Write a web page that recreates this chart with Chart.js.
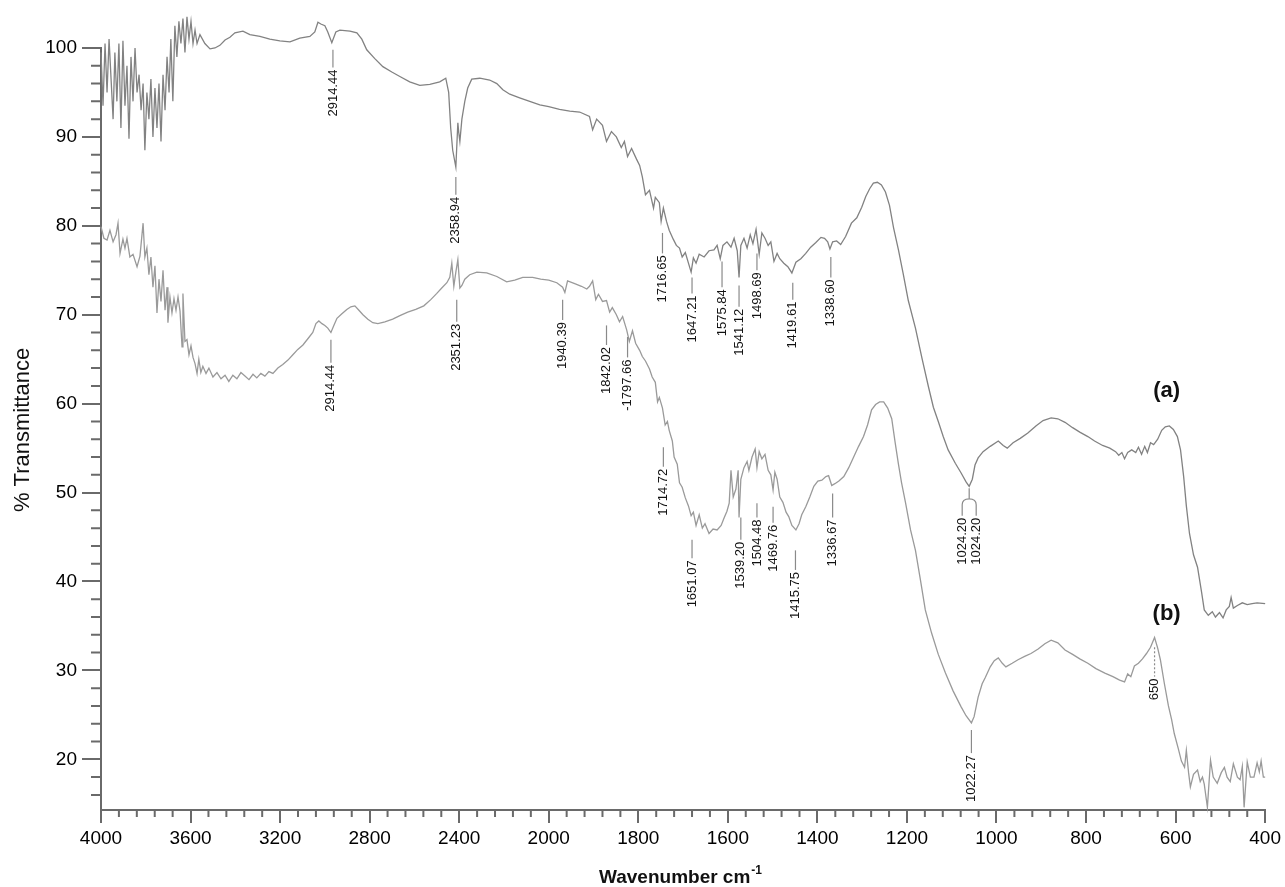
<!DOCTYPE html>
<html>
<head>
<meta charset="utf-8">
<script src="https://cdn.jsdelivr.net/npm/chart.js@4.4.1/dist/chart.umd.min.js"></script>
<style>
  body { margin: 0; background: #fff; }
  canvas { display: block; }
</style>
</head>
<body>
<canvas id="ftir" width="1285" height="887"></canvas>
<script>
// wavenumber (cm-1) and %T for trace (a)
const waveA = [4000,3991,3982,3973,3964,3955,3946,3938,3929,3920,3911,3902,3893,3884,3875,3866,3857,3848,3839,3830,3821,3812,3804,3795,3786,3777,3768,3759,3750,3741,3732,3723,3714,3705,3696,3688,3679,3670,3661,3652,3643,3634,3625,3616,3607,3598,3589,3580,3571,3558,3536,3513,3491,3469,3446,3424,3402,3366,3335,3290,3246,3201,3156,3112,3067,3045,3031,3018,3000,2987,2969,2951,2933,2888,2857,2835,2813,2777,2741,2701,2665,2621,2576,2531,2487,2460,2447,2438,2429,2415,2406,2402,2397,2388,2375,2362,2344,2308,2264,2232,2205,2174,2130,2085,2040,2000,1976,1953,1931,1909,1902,1893,1880,1871,1860,1849,1838,1831,1824,1815,1804,1797,1791,1784,1775,1766,1762,1753,1749,1744,1737,1731,1722,1715,1708,1702,1695,1688,1682,1677,1671,1664,1653,1642,1631,1624,1617,1611,1602,1593,1586,1579,1575,1571,1564,1557,1550,1544,1537,1530,1524,1517,1510,1504,1497,1490,1484,1475,1466,1457,1448,1437,1426,1415,1404,1392,1384,1377,1372,1366,1357,1348,1337,1324,1312,1301,1292,1283,1275,1266,1257,1248,1239,1230,1219,1208,1197,1181,1166,1152,1141,1130,1119,1108,1092,1079,1068,1061,1054,1048,1041,1030,1014,996,985,976,963,947,930,912,896,878,863,847,830,814,796,781,763,747,734,727,720,714,707,698,689,683,676,669,663,656,649,640,631,623,614,605,596,589,582,576,569,560,551,542,536,527,518,511,502,494,487,480,476,471,462,451,440,429,418,400];
const transA = [99.5,93.5,100.5,95,101,96.5,92,99.5,94,100.5,91,100.8,93.5,98,89.8,99,94,100,95,97,93,96,88.5,95,92,96.5,90,95.5,91,96,89.5,97,93,99,95,101,94,102.5,99,103,100.5,103.3,99.5,103.5,101,103,100.5,102,100.5,101.5,100.5,99.9,100,100.3,100.9,101.2,101.7,101.9,101.5,101.3,101,100.8,100.7,101.1,101.3,101.8,102.9,102.7,102.5,101.8,100.6,101.8,102,101.9,101.7,101,99.8,98.8,97.9,97.3,96.8,96.2,95.8,95.9,96.2,96.6,95,91,88.5,86.6,91.6,90.5,89.5,92,94,95.5,96.5,96.6,96.4,96,95.3,94.8,94.4,94,93.6,93.4,93.1,92.9,92.8,92.3,90.8,92,91.3,89.5,90.6,90,88.8,89.5,87.8,88.7,87.5,86.8,85.5,83.5,84,82,83.2,82.6,80.5,82,80.5,79.5,78.5,77.8,77.5,76.5,77,75.8,74.8,76.4,75.8,76.8,76.5,77.2,77.3,77.8,76.3,77.8,78.2,77.6,78.6,77.2,74.2,77.8,78.6,77.5,79,78,79.6,76.8,79.2,78.6,77.8,78.2,76,76.9,76.3,75.8,75.4,74.7,75.9,76.3,76.9,77.6,78.1,78.7,78.6,78.2,77.4,78.2,78.3,77.9,78.8,80.3,80.9,82.1,83.3,84.2,84.8,84.9,84.6,83.8,82.3,79.8,77.3,74.5,71.6,68.5,65,61.9,59.6,58,56.3,54.8,53.3,52.2,51.2,50.7,51.5,53.1,53.9,54.6,55.2,55.8,55.3,55,55.6,56.1,56.7,57.5,58.1,58.4,58.3,57.9,57.3,56.8,56.3,55.8,55.3,55,54.6,54.2,54.5,53.8,54.5,54.8,54.5,55.1,54.3,55.2,54.5,55.6,55.4,56,57,57.4,57.5,57.1,56.3,54.8,51.8,48.5,45.4,43,41.6,38.8,36.8,36.2,36.6,36,36.5,35.9,36.8,37.2,38.2,37,37.3,37.6,37.4,37.5,37.6,37.5];

// wavenumber (cm-1) and %T for trace (b)
const waveB = [4000,3987,3973,3960,3946,3933,3924,3915,3902,3893,3884,3871,3857,3839,3826,3812,3804,3795,3786,3777,3768,3759,3750,3741,3732,3723,3714,3705,3701,3692,3683,3674,3665,3656,3647,3638,3634,3625,3616,3607,3598,3589,3580,3571,3563,3554,3545,3531,3518,3500,3482,3464,3446,3429,3411,3393,3375,3357,3339,3321,3304,3286,3268,3250,3232,3210,3188,3165,3143,3121,3098,3076,3054,3040,3027,3013,3000,2987,2973,2960,2946,2924,2902,2884,2866,2848,2830,2808,2786,2763,2732,2697,2665,2630,2594,2558,2527,2500,2478,2455,2442,2433,2424,2415,2406,2397,2388,2375,2353,2321,2277,2232,2188,2152,2116,2072,2036,2000,1982,1969,1964,1958,1942,1927,1915,1909,1902,1895,1889,1880,1871,1864,1858,1849,1842,1835,1826,1820,1813,1806,1797,1791,1784,1775,1769,1762,1757,1753,1746,1740,1735,1731,1724,1720,1713,1708,1702,1695,1688,1682,1677,1671,1664,1657,1651,1642,1633,1624,1615,1608,1602,1597,1593,1588,1582,1577,1575,1571,1564,1557,1553,1546,1539,1535,1530,1524,1517,1510,1504,1499,1495,1490,1484,1477,1470,1464,1457,1448,1441,1435,1426,1417,1408,1399,1390,1381,1375,1368,1361,1352,1341,1330,1319,1308,1297,1288,1279,1270,1261,1252,1243,1234,1226,1219,1212,1203,1192,1181,1170,1159,1145,1130,1114,1097,1079,1068,1056,1050,1041,1032,1025,1014,1005,996,987,979,965,952,936,923,907,892,878,863,847,830,814,796,778,758,740,725,714,707,700,692,683,674,665,656,647,640,634,625,616,609,603,594,587,580,576,571,567,560,551,545,540,536,529,522,516,507,498,491,485,478,471,462,456,451,447,440,433,425,418,413,409,404,400];
const transB = [79.9,78.6,78.4,79.5,78.2,79,80.3,76.9,78.5,77.5,78.6,76.5,76.8,75.4,76.6,80.3,76.5,77.5,74.5,76.5,73.1,75.5,70.2,74,71.5,75,70.5,73.1,69.1,72,70.2,71.8,70.5,72,70.4,66.4,72.4,67,67.2,65.5,66.5,65.2,64.5,63.4,65,63.5,64.2,63.4,64,63,63.5,62.8,63.2,62.5,63.2,62.8,63.5,63.1,62.7,63.3,62.9,63.4,63.1,63.6,63.4,64,64.4,64.9,65.5,66.1,66.6,67.3,68,69,69.3,69,68.8,68.5,68,68.8,69.6,70.1,70.6,70.9,71,70.5,70,69.5,69.1,69,69.2,69.5,69.9,70.3,70.6,71,71.7,72.4,73,73.6,74.2,75.8,73.2,74.8,76.2,73,73.3,74,74.5,74.8,74.7,74.3,73.7,73.9,74.2,74.2,74,73.9,73.6,73.1,72.5,73.8,73.5,73.2,72.9,73.2,73.8,71.7,72.3,71.5,71.6,70.3,70.8,70,69.2,69.8,68.3,67,68.2,66.8,66,65.3,64.8,63.9,63,62.4,60.2,60.7,59.5,57.6,58,57,55.8,54,53.2,51.1,50.6,49.4,48.5,47.4,47.8,46.3,47.5,46,46.5,45.4,45.9,45.8,46.3,47.2,47.9,48.8,52.5,49.5,50.4,52.5,47.2,51.5,52.8,53.5,52.5,54,54.9,52.8,54.6,53.8,54.3,52.5,52,50.3,52.3,51.5,49.5,48.9,47.8,47.3,46.3,45.8,46.5,47.5,48.4,49.5,50.7,51.3,51.4,51.8,51.9,50.8,51,51.3,51.8,52.8,54,55.2,56.3,57.6,59.3,59.9,60.2,60.2,59.5,58.3,55.5,53.2,51.1,48.8,45.8,43.5,40.2,36.8,34.2,31.8,29.7,27.7,25.9,24.9,24.1,24.8,27,28.5,29.2,30.4,31.1,31.4,30.8,30.4,30.8,31.2,31.6,31.9,32.4,33,33.4,33.1,32.3,31.8,31.3,30.8,30.2,29.7,29.3,28.9,28.7,29.6,29.3,30.5,30.8,31.3,31.9,32.6,33.7,32.5,31.2,28.5,26,24.5,22.9,21.2,19.8,19.1,21,18.5,16.9,18.3,18.8,17.5,18,17.2,14.6,19.9,18,17.3,18.5,19.1,18,17.5,19.5,18,17.7,19.2,14.6,19.7,18,18,19.6,18.6,19.8,18,18];

const xTicks = [4000, 3600, 3200, 2800, 2400, 2000, 1800, 1600, 1400, 1200, 1000, 800, 600, 400];
const yTicks = [20, 30, 40, 50, 60, 70, 80, 90, 100];

// peak labels: where the mark sits on the axis, its text, leader line top/bottom in %T
const peakWave = [2964, 2415, 1746, 1680, 1613, 1575, 1535, 1455, 1370, 2973, 2411, 1969, 1871, 1824, 1744, 1680, 1571, 1535, 1499, 1449, 1366, 1056];
const peakText = ['2914.44', '2358.94', '1716.65', '1647.21', '1575.84', '1541.12', '1498.69', '1419.61', '1338.60', '2914.44', '2351.23', '1940.39', '1842.02', '-1797.66', '1714.72', '1651.07', '1539.20', '1504.48', '1469.76', '1415.75', '1336.67', '1022.27'];
const peakTop = [99.8, 85.5, 79.2, 74.2, 76.0, 73.3, 76.9, 73.6, 76.5, 67.2, 71.7, 71.7, 68.8, 67.5, 55.1, 44.7, 47.2, 48.8, 48.4, 43.5, 49.9, 23.3];
const peakBottom = [97.8, 83.5, 76.9, 72.4, 73.1, 70.9, 75.0, 71.7, 74.2, 64.6, 69.2, 69.4, 66.6, 65.2, 52.9, 42.6, 44.7, 47.2, 46.6, 41.3, 47.2, 20.7];

const BREAK = 2000;  // axis scale doubles below 2000 cm-1
const FONT = '"Liberation Sans", Arial, sans-serif';
const AXIS = '#6a6a6a';

function squeeze(v) { return v > BREAK ? BREAK + (v - BREAK) / 2 : v; }
function unsqueeze(u) { return u > BREAK ? BREAK + (u - BREAK) * 2 : u; }

class BreakScale extends Chart.LinearScale {
  getPixelForValue(value) {
    if (value === null || value === undefined) return NaN;
    const a = squeeze(this.min), b = squeeze(this.max);
    return this.getPixelForDecimal((squeeze(value) - a) / (b - a));
  }
  getValueForPixel(pixel) {
    const a = squeeze(this.min), b = squeeze(this.max);
    return unsqueeze(a + this.getDecimalForPixel(pixel) * (b - a));
  }
}
BreakScale.id = 'breakLinear';
BreakScale.defaults = Chart.LinearScale.defaults;
Chart.register(BreakScale);

function vText(ctx, px, py, text) {
  ctx.save();
  ctx.translate(px, py);
  ctx.rotate(-Math.PI / 2);
  ctx.textAlign = 'right';
  ctx.textBaseline = 'middle';
  ctx.fillText(text, 0, 0);
  ctx.restore();
}

const decorations = {
  id: 'decorations',
  afterDraw(chart) {
    const { ctx, scales: { x, y } } = chart;
    ctx.save();

    // minor ticks
    ctx.strokeStyle = AXIS;
    ctx.lineWidth = 2;
    ctx.beginPath();
    for (let v = 4000; v > 2000; v -= 80) {
      if (v % 400 === 0) continue;
      const px = x.getPixelForValue(v);
      ctx.moveTo(px, y.bottom); ctx.lineTo(px, y.bottom + 7);
    }
    for (let v = 2000; v > 400; v -= 40) {
      if (v % 200 === 0) continue;
      const px = x.getPixelForValue(v);
      ctx.moveTo(px, y.bottom); ctx.lineTo(px, y.bottom + 7);
    }
    for (let v = 16; v < 100; v += 2) {
      if (v % 10 === 0) continue;
      const py = y.getPixelForValue(v);
      ctx.moveTo(x.left - 10, py); ctx.lineTo(x.left, py);
    }
    ctx.stroke();

    // peak labels
    ctx.font = '13px ' + FONT;
    ctx.fillStyle = '#111';
    ctx.strokeStyle = '#8a8a8a';
    ctx.lineWidth = 1.2;
    peakWave.forEach((w, i) => {
      const px = x.getPixelForValue(w);
      const y0 = y.getPixelForValue(peakTop[i]);
      const y1 = y.getPixelForValue(peakBottom[i]);
      ctx.beginPath(); ctx.moveTo(px, y0); ctx.lineTo(px, y1); ctx.stroke();
      vText(ctx, px, y1 + 2, peakText[i]);
    });

    // forked label at the 1024.20 minimum of (a)
    const fx = x.getPixelForValue(1061);
    const f0 = y.getPixelForValue(50.5), f1 = y.getPixelForValue(49.3), f2 = y.getPixelForValue(47.4);
    ctx.beginPath();
    ctx.moveTo(fx, f0); ctx.lineTo(fx, f1);
    ctx.moveTo(fx, f1); ctx.quadraticCurveTo(fx - 7, f1, fx - 7, f1 + 6); ctx.lineTo(fx - 7, f2);
    ctx.moveTo(fx, f1); ctx.quadraticCurveTo(fx + 7, f1, fx + 7, f1 + 6); ctx.lineTo(fx + 7, f2);
    ctx.stroke();
    vText(ctx, fx - 7, f2 + 2, '1024.20');
    vText(ctx, fx + 7, f2 + 2, '1024.20');

    // 650 mark on (b)
    const sx = x.getPixelForValue(647);
    ctx.setLineDash([2, 2]);
    ctx.beginPath();
    ctx.moveTo(sx, y.getPixelForValue(32.6)); ctx.lineTo(sx, y.getPixelForValue(29.3));
    ctx.stroke();
    ctx.setLineDash([]);
    vText(ctx, sx, y.getPixelForValue(29.3) + 2, '650');

    // trace tags
    ctx.font = 'bold 22px ' + FONT;
    ctx.textAlign = 'center';
    ctx.textBaseline = 'middle';
    ctx.fillText('(a)', x.getPixelForValue(620), y.getPixelForValue(61.4));
    ctx.fillText('(b)', x.getPixelForValue(620), y.getPixelForValue(36.3));

    // axis titles
    ctx.font = '22px ' + FONT;
    ctx.save();
    ctx.translate(23, 430);
    ctx.rotate(-Math.PI / 2);
    ctx.fillText('% Transmittance', 0, 0);
    ctx.restore();

    ctx.font = 'bold 19px ' + FONT;
    ctx.textAlign = 'left';
    ctx.textBaseline = 'alphabetic';
    const main = 'Wavenumber cm';
    const wMain = ctx.measureText(main).width;
    ctx.font = 'bold 12px ' + FONT;
    const wSup = ctx.measureText('-1').width;
    const start = 680 - (wMain + wSup) / 2;
    ctx.font = 'bold 19px ' + FONT;
    ctx.fillText(main, start, 883);
    ctx.font = 'bold 12px ' + FONT;
    ctx.fillText('-1', start + wMain + 1, 874);

    ctx.restore();
  }
};

const toPoints = (xs, ys) => xs.map((w, i) => ({ x: w, y: ys[i] }));

new Chart(document.getElementById('ftir'), {
  type: 'line',
  data: {
    datasets: [
      { label: '(a)', data: toPoints(waveA, transA), borderColor: '#828282', borderWidth: 1.3, pointRadius: 0, clip: false },
      { label: '(b)', data: toPoints(waveB, transB), borderColor: '#9a9a9a', borderWidth: 1.3, pointRadius: 0, clip: false }
    ]
  },
  options: {
    responsive: false,
    animation: false,
    devicePixelRatio: 1,
    layout: { padding: { top: 48, right: 17, left: 0, bottom: 0 } },
    plugins: { legend: { display: false }, tooltip: { enabled: false } },
    scales: {
      x: {
        type: 'breakLinear',
        reverse: true,
        min: 400,
        max: 4000,
        afterBuildTicks: s => { s.ticks = xTicks.map(v => ({ value: v })); },
        afterFit: s => { s.height = 77; },
        grid: { display: true, drawOnChartArea: false, drawTicks: true, tickLength: 13, color: AXIS, lineWidth: 2 },
        border: { display: true, color: AXIS, width: 2 },
        ticks: { autoSkip: false, maxRotation: 0, padding: 4, color: '#000', font: { family: FONT, size: 19 }, callback: v => String(v) }
      },
      y: {
        min: 14.3,
        max: 100,
        afterBuildTicks: s => { s.ticks = yTicks.map(v => ({ value: v })); },
        afterFit: s => { s.width = 101; },
        grid: { display: true, drawOnChartArea: false, drawTicks: true, tickLength: 19, color: AXIS, lineWidth: 2 },
        border: { display: true, color: AXIS, width: 2 },
        ticks: { padding: 5, color: '#000', font: { family: FONT, size: 19 }, callback: v => String(v) }
      }
    }
  },
  plugins: [decorations]
});
</script>
</body>
</html>
